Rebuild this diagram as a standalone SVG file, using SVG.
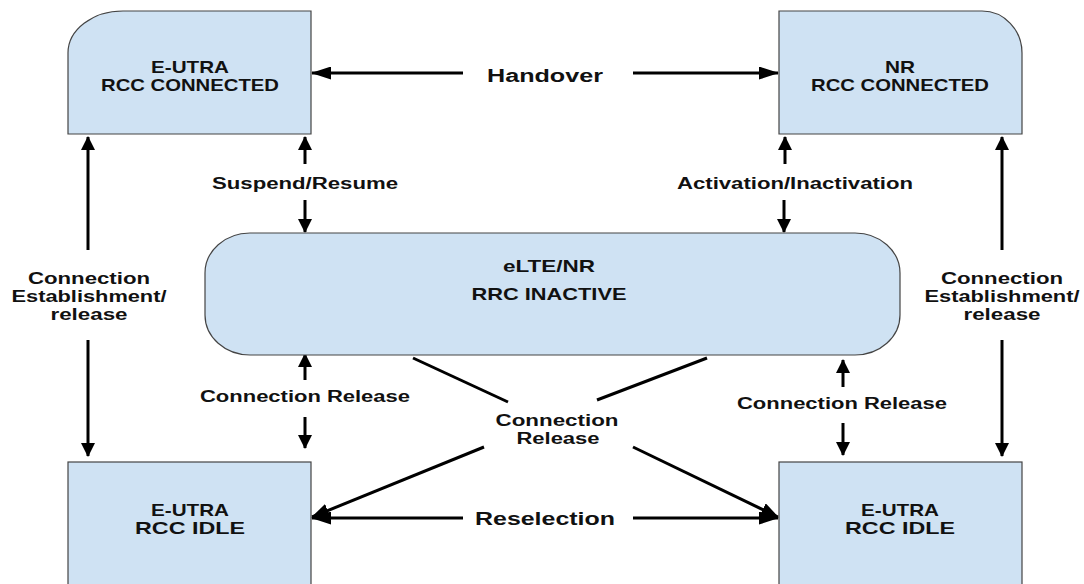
<svg xmlns="http://www.w3.org/2000/svg" width="1084" height="584" viewBox="0 0 1084 584">
<style>
.box{fill:#cfe2f3;stroke:#444;stroke-width:1.2}
.t{font-family:"Liberation Sans",Arial,sans-serif;font-weight:bold;fill:#111;text-anchor:middle}
.bt{font-size:17px}
.lt{font-size:16px}
.big{font-size:18px}
.c{stroke:#000;stroke-width:3;fill:none}
</style>
<defs>
<marker id="av" viewBox="0 0 14 14" refX="13" refY="7" markerWidth="14" markerHeight="14" markerUnits="userSpaceOnUse" orient="auto"><path d="M0,0 L14,7 L0,14 Z" fill="#000"/></marker>
<marker id="ah" viewBox="0 0 20 13" refX="19" refY="6.5" markerWidth="20" markerHeight="13" markerUnits="userSpaceOnUse" orient="auto"><path d="M0,0 L20,6.5 L0,13 Z" fill="#000"/></marker>
<marker id="ad" viewBox="0 0 18 14" refX="17" refY="7" markerWidth="18" markerHeight="14" markerUnits="userSpaceOnUse" orient="auto"><path d="M0,0 L18,7 L0,14 Z" fill="#000"/></marker>
</defs>
<rect width="1084" height="584" fill="#fff"/>

<g id="connectors">
<!-- Handover -->
<line class="c" x1="463" y1="73" x2="312" y2="73" marker-end="url(#ah)"/>
<line class="c" x1="633" y1="73" x2="778" y2="73" marker-end="url(#ah)"/>
<!-- Suspend/Resume -->
<line class="c" x1="305" y1="164" x2="305" y2="137" marker-end="url(#av)"/>
<line class="c" x1="305" y1="200" x2="305" y2="232" marker-end="url(#av)"/>
<!-- Activation/Inactivation -->
<line class="c" x1="785" y1="164" x2="785" y2="137" marker-end="url(#av)"/>
<line class="c" x1="784" y1="200" x2="784" y2="232" marker-end="url(#av)"/>
<!-- Left establishment -->
<line class="c" x1="88" y1="250" x2="88" y2="137" marker-end="url(#av)"/>
<line class="c" x1="88" y1="340" x2="88" y2="456" marker-end="url(#av)"/>
<!-- Right establishment -->
<line class="c" x1="1002" y1="250" x2="1002" y2="137" marker-end="url(#av)"/>
<line class="c" x1="1002" y1="340" x2="1002" y2="456" marker-end="url(#av)"/>
<!-- Left connection release -->
<line class="c" x1="305" y1="380" x2="305" y2="354" marker-end="url(#av)"/>
<line class="c" x1="305" y1="417" x2="305" y2="448" marker-end="url(#av)"/>
<!-- Right connection release -->
<line class="c" x1="843" y1="387" x2="843" y2="360" marker-end="url(#av)"/>
<line class="c" x1="843" y1="423" x2="843" y2="455" marker-end="url(#av)"/>
<!-- Center connection release -->
<line class="c" x1="413" y1="358" x2="508" y2="402"/>
<line class="c" x1="707" y1="358" x2="597" y2="400"/>
<line class="c" x1="484" y1="447" x2="312" y2="517" marker-end="url(#ad)"/>
<line class="c" x1="633" y1="447" x2="778" y2="517" marker-end="url(#ad)"/>
<!-- Reselection -->
<line class="c" x1="463" y1="518" x2="312" y2="518" marker-end="url(#ah)"/>
<line class="c" x1="633" y1="518" x2="778" y2="518" marker-end="url(#ah)"/>
</g>

<g id="eutra-connected">
<path class="box" d="M68,134 V53 A55,42 0 0 1 123,11 H311 V134 Z"/>
<text class="t bt" x="190" y="73" textLength="78" lengthAdjust="spacingAndGlyphs">E-UTRA</text>
<text class="t bt" x="190" y="91" textLength="178" lengthAdjust="spacingAndGlyphs">RCC CONNECTED</text>
</g>

<g id="nr-connected">
<path class="box" d="M779,11 H982 A40,42 0 0 1 1022,53 V134 H779 Z"/>
<text class="t bt" x="900" y="73" textLength="30" lengthAdjust="spacingAndGlyphs">NR</text>
<text class="t bt" x="900" y="91" textLength="178" lengthAdjust="spacingAndGlyphs">RCC CONNECTED</text>
</g>

<g id="rrc-inactive">
<rect class="box" x="205" y="233" width="695" height="122" rx="45" ry="40"/>
<text class="t bt" x="549" y="272" textLength="92" lengthAdjust="spacingAndGlyphs">eLTE/NR</text>
<text class="t bt" x="549" y="300" textLength="155" lengthAdjust="spacingAndGlyphs">RRC INACTIVE</text>
</g>

<g id="eutra-idle-left">
<rect class="box" x="68" y="462" width="243" height="130"/>
<text class="t bt" x="190" y="516" textLength="78" lengthAdjust="spacingAndGlyphs">E-UTRA</text>
<text class="t bt" x="190" y="534" textLength="110" lengthAdjust="spacingAndGlyphs">RCC IDLE</text>
</g>

<g id="eutra-idle-right">
<rect class="box" x="779" y="462" width="243" height="130"/>
<text class="t bt" x="900" y="516" textLength="78" lengthAdjust="spacingAndGlyphs">E-UTRA</text>
<text class="t bt" x="900" y="534" textLength="110" lengthAdjust="spacingAndGlyphs">RCC IDLE</text>
</g>

<g id="labels">
<text class="t big" x="545" y="82" textLength="116" lengthAdjust="spacingAndGlyphs">Handover</text>
<text class="t lt" x="305" y="189" textLength="186" lengthAdjust="spacingAndGlyphs">Suspend/Resume</text>
<text class="t lt" x="795" y="189" textLength="236" lengthAdjust="spacingAndGlyphs">Activation/Inactivation</text>
<text class="t lt" x="89" y="284" textLength="122" lengthAdjust="spacingAndGlyphs">Connection</text>
<text class="t lt" x="89" y="302" textLength="155" lengthAdjust="spacingAndGlyphs">Establishment/</text>
<text class="t lt" x="89" y="320" textLength="77" lengthAdjust="spacingAndGlyphs">release</text>
<text class="t lt" x="1002" y="284" textLength="122" lengthAdjust="spacingAndGlyphs">Connection</text>
<text class="t lt" x="1002" y="302" textLength="155" lengthAdjust="spacingAndGlyphs">Establishment/</text>
<text class="t lt" x="1002" y="320" textLength="77" lengthAdjust="spacingAndGlyphs">release</text>
<text class="t lt" x="305" y="402" textLength="210" lengthAdjust="spacingAndGlyphs">Connection Release</text>
<text class="t lt" x="842" y="409" textLength="210" lengthAdjust="spacingAndGlyphs">Connection Release</text>
<text class="t lt" x="557" y="426" textLength="123" lengthAdjust="spacingAndGlyphs">Connection</text>
<text class="t lt" x="558" y="444" textLength="83" lengthAdjust="spacingAndGlyphs">Release</text>
<text class="t big" x="545" y="525" textLength="140" lengthAdjust="spacingAndGlyphs">Reselection</text>
</g>
</svg>
